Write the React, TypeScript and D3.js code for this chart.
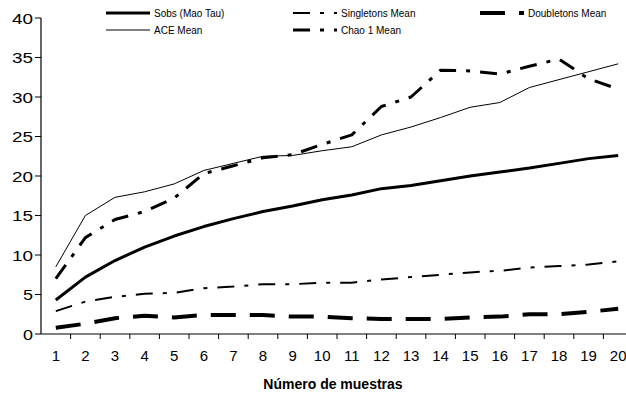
import React from 'react';
import * as d3 from 'd3';

// samples 1..20
const samples = d3.range(1, 21).map(String);
const yTicks = [0, 5, 10, 15, 20, 25, 30, 35, 40];

const sobs = [4.3, 7.2, 9.3, 11.0, 12.4, 13.6, 14.6, 15.5, 16.2, 17.0, 17.6, 18.4, 18.8, 19.4, 20.0, 20.5, 21.0, 21.6, 22.2, 22.6];
const aceMean = [8.5, 15.0, 17.3, 18.0, 19.0, 20.7, 21.6, 22.5, 22.6, 23.2, 23.7, 25.2, 26.2, 27.4, 28.7, 29.3, 31.2, 32.2, 33.2, 34.2];
const chao1Mean = [7.0, 12.2, 14.5, 15.5, 17.2, 20.3, 21.3, 22.3, 22.7, 24.0, 25.2, 28.8, 30.0, 33.4, 33.3, 32.9, 33.9, 34.8, 32.3, 31.0];
const singletonsMean = [2.9, 4.1, 4.7, 5.1, 5.2, 5.8, 6.0, 6.3, 6.3, 6.5, 6.5, 6.9, 7.2, 7.5, 7.8, 8.0, 8.4, 8.6, 8.8, 9.2];
const doubletonsMean = [0.8, 1.3, 2.0, 2.3, 2.1, 2.4, 2.4, 2.4, 2.2, 2.2, 2.0, 1.9, 1.9, 1.9, 2.1, 2.2, 2.5, 2.5, 2.8, 3.2];

const series = [
    { name: 'Sobs (Mao Tau)', values: sobs, width: 3, dash: '', lx: 106, ly: 13 },
    { name: 'ACE Mean', values: aceMean, width: 1, dash: '', lx: 106, ly: 30 },
    { name: 'Singletons Mean', values: singletonsMean, width: 2, dash: '17,10,4,10', lx: 293, ly: 13 },
    { name: 'Chao 1 Mean', values: chao1Mean, width: 3, dash: '17,10,4,10', lx: 293, ly: 30 },
    { name: 'Doubletons Mean', values: doubletonsMean, width: 4, dash: '25,14', lx: 480, ly: 13 },
];

const App = () => {
    const width = 626;
    const height = 396;
    const left = 41;
    const bottom = 334;
    const top = 18;

    const x = d3.scaleBand().domain(samples).range([left, left + 29.6 * 20]);
    const y = d3.scaleLinear().domain([0, 40]).range([bottom, top]);

    const line = d3.line<number>()
        .x((d, i) => (x(samples[i]) as number) + x.bandwidth() / 2)
        .y(d => y(d));

    const font = 'Arial, "Liberation Sans", sans-serif';

    return (
        <svg width={width} height={height} style={{ position: 'absolute', left: 0, top: 0, background: '#fff' }}>
            {/* axes */}
            <line x1={left} x2={left} y1={top} y2={bottom} stroke="#000" strokeWidth={1.2} />
            <line x1={left} x2={width} y1={bottom} y2={bottom} stroke="#000" strokeWidth={1.2} />
            {yTicks.map(t => (
                <g key={t}>
                    <line x1={left - 6} x2={left} y1={y(t)} y2={y(t)} stroke="#000" strokeWidth={1} />
                    <text x={33} y={y(t) + 5.5} textAnchor="end" fontFamily={font} fontSize={15}
                        textLength={t < 10 ? 10 : 21} lengthAdjust="spacingAndGlyphs">{t}</text>
                </g>
            ))}
            {samples.map((s, i) => (
                <g key={s}>
                    <line x1={left + x.step() * (i + 1)} x2={left + x.step() * (i + 1)} y1={bottom} y2={bottom + 5}
                        stroke="#000" strokeWidth={1} />
                    <text x={(x(s) as number) + x.bandwidth() / 2} y={361} textAnchor="middle"
                        fontFamily={font} fontSize={15}>{s}</text>
                </g>
            ))}
            <text x={333} y={389} textAnchor="middle" fontFamily={font} fontSize={14} fontWeight="bold">
                Número de muestras
            </text>

            {/* series */}
            {series.map(s => (
                <path key={s.name} d={line(s.values) || ''} fill="none" stroke="#000"
                    strokeWidth={s.width} strokeDasharray={s.dash || undefined} strokeLinejoin="round" />
            ))}

            {/* legend */}
            {series.map(s => (
                <g key={'lg' + s.name}>
                    <line x1={s.lx} x2={s.lx + 44} y1={s.ly} y2={s.ly} stroke="#000"
                        strokeWidth={s.width} strokeDasharray={s.dash || undefined} />
                    <text x={s.lx + 48} y={s.ly + 3.5} fontFamily={font} fontSize={10}>{s.name}</text>
                </g>
            ))}
        </svg>
    );
};

export default App;
